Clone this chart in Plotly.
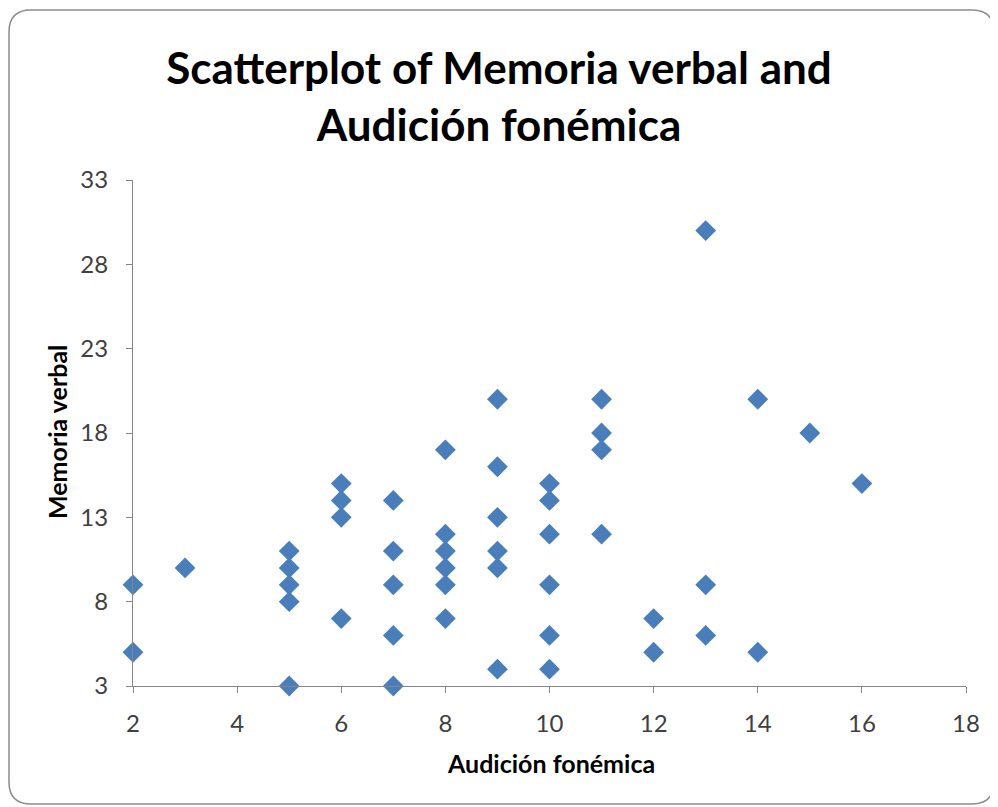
import plotly.graph_objects as go

# Data
audicion = [2, 2, 3, 5, 5, 5, 5, 5, 6, 6, 6, 6, 7, 7, 7, 7, 7,
            8, 8, 8, 8, 8, 8, 9, 9, 9, 9, 9, 9, 10, 10, 10, 10, 10, 10,
            11, 11, 11, 11, 12, 12, 13, 13, 13, 14, 14, 15, 16]
memoria = [9, 5, 10, 11, 10, 9, 8, 3, 15, 14, 13, 7, 14, 11, 9, 6, 3,
           17, 12, 11, 10, 9, 7, 20, 16, 13, 11, 10, 4, 15, 14, 12, 9, 6, 4,
           20, 18, 17, 12, 7, 5, 30, 9, 6, 20, 5, 18, 15]

x_ticks = [2, 4, 6, 8, 10, 12, 14, 16, 18]
y_ticks = [3, 8, 13, 18, 23, 28, 33]

title_text = "Scatterplot of Memoria verbal and<br>Audición fonémica"
x_title = "Audición fonémica"
y_title = "Memoria verbal"

# page body has an 8px margin; compensate so the picture lands at 998x807
OFF = 8
W, H = 998 - OFF, 807 - OFF
L, R, T, B = 133 - OFF, 32, 180 - OFF, 121

fig = go.Figure()
fig.add_trace(go.Scatter(
    x=audicion, y=memoria, mode="markers",
    marker=dict(symbol="diamond", size=16, color="#4A7EBB", line=dict(width=0)),
    showlegend=False, cliponaxis=False,
))

pw = W - L - R
ph = H - T - B
def px(xs):  # screenshot x -> paper
    return (xs - 133) / pw
def py(ys):  # screenshot y -> paper
    return (686 - ys) / ph

x0, x1, y0, y1 = px(9), px(994), py(804), py(10)
rx, ry = 22 / pw, 22 / ph
path = (f"M {x0+rx},{y1} L {x1-rx},{y1} Q {x1},{y1} {x1},{y1-ry} "
        f"L {x1},{y0+ry} Q {x1},{y0} {x1-rx},{y0} L {x0+rx},{y0} "
        f"Q {x0},{y0} {x0},{y0+ry} L {x0},{y1-ry} Q {x0},{y1} {x0+rx},{y1} Z")
fig.add_shape(type="path", path=path, xref="paper", yref="paper",
              line=dict(color="#8C8C8C", width=1.5), layer="below")

fig.update_layout(
    width=W, height=H,
    margin=dict(l=L, r=R, t=T, b=B),
    paper_bgcolor="white", plot_bgcolor="white",
    font=dict(family="Lato", color="#404040"),
    title=dict(text=title_text, x=(499 - OFF) / W, xref="container", xanchor="center",
               y=1 - (84 - OFF) / H, yref="container", yanchor="middle",
               font=dict(family="Lato", size=44, color="black", weight="bold")),
    xaxis=dict(range=[2, 18], tickvals=x_ticks, showgrid=False, zeroline=False,
               showline=True, linecolor="#868686", linewidth=1,
               ticks="outside", ticklen=6, tickcolor="#868686",
               tickfont=dict(size=24, color="#404040", family="Lato"),
               ticklabelstandoff=10),
    yaxis=dict(range=[3, 33], tickvals=y_ticks, showgrid=False, zeroline=False,
               showline=True, linecolor="#868686", linewidth=1,
               ticks="outside", ticklen=6, tickcolor="#868686",
               tickfont=dict(size=24, color="#404040", family="Lato"),
               ticklabelstandoff=13),
    annotations=[
        dict(text=f"<b>{x_title}</b>", xref="paper", yref="paper",
             x=px(551), y=py(763), showarrow=False, xanchor="center", yanchor="middle",
             font=dict(size=25, color="black", family="Lato")),
        dict(text=f"<b>{y_title}</b>", xref="paper", yref="paper",
             x=px(57), y=py(432), showarrow=False, xanchor="center", yanchor="middle",
             textangle=-90, font=dict(size=25, color="black", family="Lato")),
    ],
)

fig.write_html("out.html")
